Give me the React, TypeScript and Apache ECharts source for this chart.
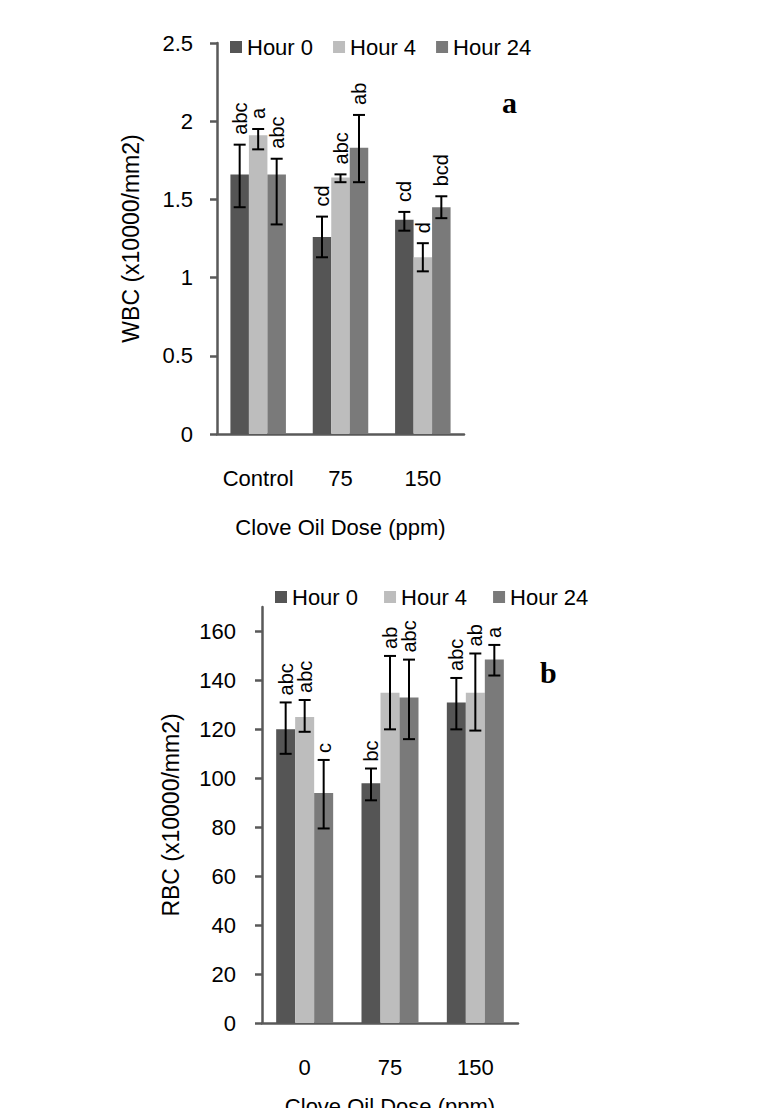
import React, { useEffect, useRef } from 'react';
import * as echarts from 'echarts';

const hours = ['Hour 0', 'Hour 4', 'Hour 24'];
const colors = ['#555555', '#bdbdbd', '#7a7a7a'];

// panel a: WBC
const wbcDoses = ['Control', '75', '150'];
const wbcHour0 = [1.66, 1.26, 1.37];
const wbcHour4 = [1.91, 1.64, 1.13];
const wbcHour24 = [1.66, 1.83, 1.45];
const wbcHigh = [
  [1.85, 1.39, 1.42],
  [1.95, 1.66, 1.22],
  [1.76, 2.04, 1.52],
];
const wbcLow = [
  [1.45, 1.13, 1.3],
  [1.82, 1.61, 1.04],
  [1.34, 1.61, 1.38],
];
const wbcLetters = [
  ['abc', 'cd', 'cd'],
  ['a', 'abc', 'd'],
  ['abc', 'ab', 'bcd'],
];
const wbcTicks = [0, 0.5, 1, 1.5, 2, 2.5];

// panel b: RBC
const rbcDoses = ['0', '75', '150'];
const rbcHour0 = [120, 98, 131];
const rbcHour4 = [125, 135, 135];
const rbcHour24 = [94, 133, 148.5];
const rbcHigh = [
  [131, 104, 141],
  [132, 150, 151],
  [107.5, 148.5, 154.5],
];
const rbcLow = [
  [110, 91, 120],
  [119, 120, 119.5],
  [79.5, 116, 142],
];
const rbcLetters = [
  ['abc', 'bc', 'abc'],
  ['abc', 'ab', 'ab'],
  ['c', 'abc', 'a'],
];
const rbcTicks = [0, 20, 40, 60, 80, 100, 120, 140, 160];

const FONT = '"Liberation Sans", Arial, sans-serif';
const AXIS = '#595959';

function axisPair(idx: number, cats: string[], max: number, ticks: number[], yName: string, yGap: number, yMargin: number, xGap: number) {
  const x = {
    type: 'category',
    gridIndex: idx,
    data: cats,
    name: 'Clove Oil Dose (ppm)',
    nameLocation: 'middle',
    nameGap: xGap,
    nameTextStyle: { color: '#000', fontSize: 22, fontFamily: FONT },
    axisLine: { lineStyle: { color: AXIS, width: 2.5 } },
    axisTick: { length: 7, lineStyle: { color: AXIS, width: 2.5 } },
    axisLabel: { color: '#000', fontSize: 22, fontFamily: FONT, margin: 33, interval: 0 },
  };
  const y = {
    type: 'value',
    gridIndex: idx,
    min: 0,
    max,
    name: yName,
    nameLocation: 'middle',
    nameRotate: 90,
    nameGap: yGap,
    nameTextStyle: { color: '#000', fontSize: 23, fontFamily: FONT },
    splitLine: { show: false },
    axisLine: { show: true, lineStyle: { color: AXIS, width: 2.5 } },
    axisTick: { show: true, length: 7, customValues: ticks, lineStyle: { color: AXIS, width: 2.5 } },
    axisLabel: { color: '#000', fontSize: 22, fontFamily: FONT, margin: yMargin, customValues: ticks },
  };
  return { x, y };
}

function errorSeries(idx: number, h: number, low: number[], high: number[], letters: string[], barW: number, gap: number) {
  const offset = (h - 1) * barW;
  return {
    type: 'custom',
    xAxisIndex: idx,
    yAxisIndex: idx,
    z: 10,
    silent: true,
    encode: { x: 0, y: [1, 2] },
    data: low.map((lo, i) => [i, lo, high[i]]),
    renderItem: (params: any, api: any) => {
      const cat = api.value(0);
      const bot = api.coord([cat, api.value(1)]);
      const top = api.coord([cat, api.value(2)]);
      const x = bot[0] + offset;
      const st = { stroke: '#000', lineWidth: 2 };
      return {
        type: 'group',
        children: [
          { type: 'line', shape: { x1: x, y1: top[1], x2: x, y2: bot[1] }, style: st },
          { type: 'line', shape: { x1: x - 6, y1: top[1], x2: x + 6, y2: top[1] }, style: st },
          { type: 'line', shape: { x1: x - 6, y1: bot[1], x2: x + 6, y2: bot[1] }, style: st },
          {
            type: 'text',
            x: x,
            y: top[1] - gap,
            rotation: Math.PI / 2,
            style: {
              text: letters[params.dataIndex],
              fill: '#000',
              fontSize: 20,
              fontFamily: FONT,
              align: 'left',
              verticalAlign: 'middle',
            },
          },
        ],
      };
    },
  };
}

function barSeries(idx: number, values: number[][], barW: number) {
  return values.map((v, h) => ({
    name: hours[h],
    type: 'bar',
    xAxisIndex: idx,
    yAxisIndex: idx,
    data: v,
    barWidth: barW,
    barGap: '0%',
    itemStyle: { color: colors[h] },
  }));
}

const App: React.FC = () => {
  const ref = useRef<HTMLDivElement>(null);

  useEffect(() => {
    if (!ref.current) return;
    const chart = echarts.init(ref.current, undefined, { renderer: 'svg' });

    const a = axisPair(0, wbcDoses, 2.5, wbcTicks, 'WBC (x10000/mm2)', 75, 24, 82);
    const b = axisPair(1, rbcDoses, 170, rbcTicks, 'RBC (x10000/mm2)', 80, 26, 72);

    const legendBase = {
      orient: 'horizontal',
      icon: 'rect',
      itemWidth: 12,
      itemHeight: 12,
      padding: 0,
      data: hours,
      textStyle: { color: '#000', fontSize: 22, fontFamily: FONT },
    };

    chart.setOption({
      animation: false,
      backgroundColor: '#fff',
      grid: [
        { left: 217, top: 43, width: 247, height: 391, outerBoundsMode: 'none' },
        { left: 262, top: 607, width: 256, height: 416, outerBoundsMode: 'none' },
      ],
      legend: [
        { ...legendBase, left: 230, top: 36, itemGap: 20 },
        { ...legendBase, left: 275, top: 586, itemGap: 26 },
      ],
      xAxis: [a.x, b.x],
      yAxis: [a.y, b.y],
      series: [
        ...barSeries(0, [wbcHour0, wbcHour4, wbcHour24], 18.5),
        ...barSeries(1, [rbcHour0, rbcHour4, rbcHour24], 19),
        ...[0, 1, 2].map((h) => errorSeries(0, h, wbcLow[h], wbcHigh[h], wbcLetters[h], 18.5, 10)),
        ...[0, 1, 2].map((h) => errorSeries(1, h, rbcLow[h], rbcHigh[h], rbcLetters[h], 19, 7)),
      ],
      graphic: [
        {
          type: 'text',
          x: 502,
          y: 117,
          style: { text: 'a', fill: '#000', font: 'bold 30px "Liberation Serif", "Times New Roman", serif', verticalAlign: 'bottom' },
        },
        {
          type: 'text',
          x: 540,
          y: 687,
          style: { text: 'b', fill: '#000', font: 'bold 30px "Liberation Serif", "Times New Roman", serif', verticalAlign: 'bottom' },
        },
      ],
    });

    return () => chart.dispose();
  }, []);

  return (
    <div style={{ position: 'absolute', left: 0, top: 0, width: 760, height: 1108, overflow: 'hidden', background: '#fff' }}>
      <div
        style={{
          position: 'absolute',
          left: 0,
          top: 0,
          width: 758,
          height: 1140,
          boxSizing: 'border-box',
          border: '1px solid #d0d0d0',
          borderRadius: 6,
        }}
      />
      <div ref={ref} style={{ position: 'absolute', left: 0, top: 0, width: 760, height: 1108 }} />
    </div>
  );
};

export default App;
